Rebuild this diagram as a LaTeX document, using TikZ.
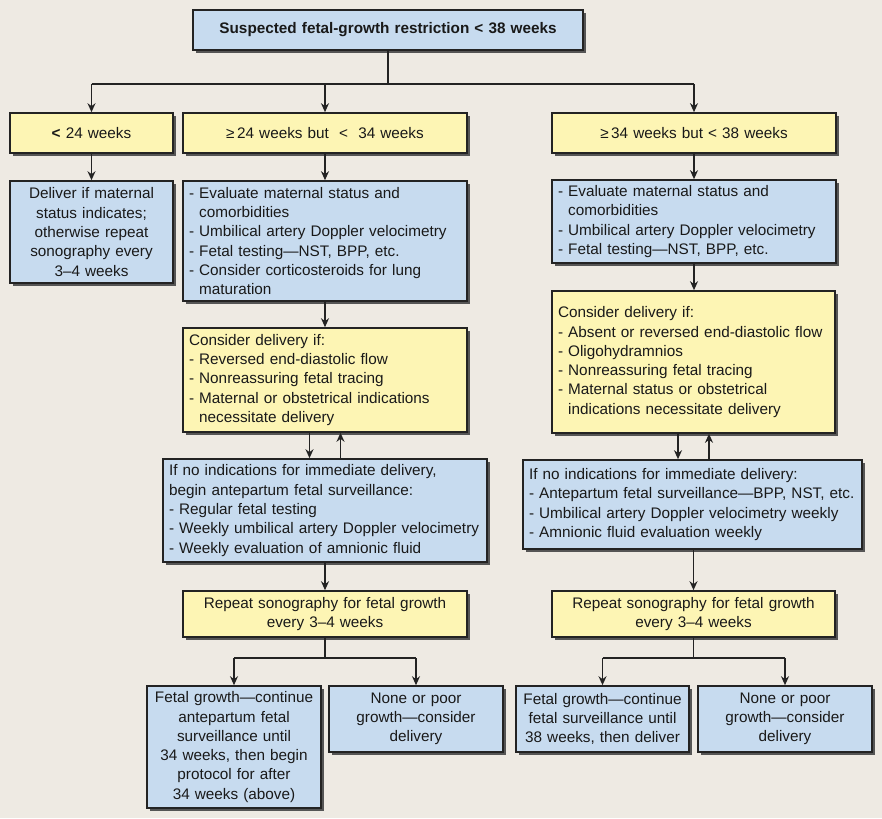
\documentclass[tikz,border=0pt]{standalone}
\usepackage{fontspec}
\setmainfont{Liberation Sans}
\usetikzlibrary{arrows.meta,shadows}
\definecolor{bgc}{RGB}{238,234,227}
\definecolor{bluec}{RGB}{199,219,239}
\definecolor{yelc}{RGB}{253,245,180}
\definecolor{linec}{RGB}{35,35,35}
\definecolor{shadc}{RGB}{85,85,85}
\definecolor{textc}{RGB}{25,25,25}
\newcommand\ind{\hphantom{-~}}
\tikzset{
  box/.style={draw=linec, line width=1.6pt, inner xsep=6pt, inner ysep=0pt,
    text=textc, font=\fontsize{15.3}{19.3}\selectfont,
    drop shadow={shadow xshift=3pt, shadow yshift=-3pt, fill=shadc, opacity=1}},
  bluebox/.style={box, fill=bluec},
  yelbox/.style={box, fill=yelc},
  lft/.style={align=left},
  ctr/.style={align=center},
  conn/.style={draw=linec, line width=1.8pt},
  arr/.style={conn, -{Stealth[length=9pt,width=8pt]}}
}
\newcommand\mkbox[7]{%
  \pgfmathsetmacro\bxW{#5-#3-12}%
  \pgfmathsetmacro\bxH{#6-#4}%
  \pgfmathsetmacro\bxX{(#3+#5)/2}%
  \pgfmathsetmacro\bxY{(#4+#6)/2}%
  \node[#2, text width=\bxW pt, minimum height=\bxH pt] (#1) at (\bxX,\bxY) {#7};}
\begin{document}
\begin{tikzpicture}[x=1pt,y=-1pt]
\fill[bgc] (0,0) rectangle (882,818);
\useasboundingbox (0,0) rectangle (882,818);

\mkbox{title}{bluebox,ctr}{193}{10}{583}{50}{\textbf{Suspected fetal-growth restriction < 38 weeks}}
\mkbox{b24}{yelbox,ctr}{10}{113}{173}{153}{\textbf{<} 24 weeks}
\mkbox{b2434}{yelbox,ctr}{183}{113}{467}{153}{≥\,24 weeks but\ \ <\ \ 34 weeks}
\mkbox{b3438}{yelbox,ctr}{552}{113}{836}{153}{≥\,34 weeks but < 38 weeks}

\mkbox{deliver}{bluebox,ctr}{10}{181}{173}{283}{Deliver if maternal\\status indicates;\\otherwise repeat\\sonography every\\3–4 weeks}
\mkbox{llist}{bluebox,lft}{183}{181}{467}{301}{- Evaluate maternal status and\\\ind comorbidities\\\mbox{- Umbilical artery Doppler velocimetry}\\- Fetal testing—NST, BPP, etc.\\- Consider corticosteroids for lung\\\ind maturation}
\mkbox{rlist}{bluebox,lft}{552}{180}{836}{263}{- Evaluate maternal status and\\\ind comorbidities\\\mbox{- Umbilical artery Doppler velocimetry}\\- Fetal testing—NST, BPP, etc.}

\mkbox{lcons}{yelbox,lft}{183}{328}{467}{432}{Consider delivery if:\\- Reversed end-diastolic flow\\- Nonreassuring fetal tracing\\\mbox{- Maternal or obstetrical indications}\\\ind necessitate delivery}
\mkbox{rcons}{yelbox,lft}{552}{291}{835}{433}{Consider delivery if:\\\mbox{- Absent or reversed end-diastolic flow}\\- Oligohydramnios\\- Nonreassuring fetal tracing\\- Maternal status or obstetrical\\\ind indications necessitate delivery}

\mkbox{lsurv}{bluebox,lft}{163}{459}{487}{562}{\mbox{If no indications for immediate delivery,}\\begin antepartum fetal surveillance:\\- Regular fetal testing\\\mbox{- Weekly umbilical artery Doppler velocimetry}\\- Weekly evaluation of amnionic fluid}
\mkbox{rsurv}{bluebox,lft}{523}{460}{862}{549}{\mbox{If no indications for immediate delivery:}\\\mbox{- Antepartum fetal surveillance—BPP, NST, etc.}\\\mbox{- Umbilical artery Doppler velocimetry weekly}\\- Amnionic fluid evaluation weekly}

\mkbox{lrep}{yelbox,ctr}{183}{591}{467}{637}{Repeat sonography for fetal growth\\every 3–4 weeks}
\mkbox{rrep}{yelbox,ctr}{552}{591}{835}{637}{Repeat sonography for fetal growth\\every 3–4 weeks}

\mkbox{lfg}{bluebox,ctr}{147}{686}{321}{808}{Fetal growth—continue\\antepartum fetal\\surveillance until\\34 weeks, then begin\\protocol for after\\34 weeks (above)}
\mkbox{lnone}{bluebox,ctr}{329}{686}{503}{752}{None or poor\\growth—consider\\delivery}
\mkbox{rfg}{bluebox,ctr}{516}{686}{689}{752}{Fetal growth—continue\\fetal surveillance until\\38 weeks, then deliver}
\mkbox{rnone}{bluebox,ctr}{698}{686}{872}{752}{None or poor\\growth—consider\\delivery}

% connectors
\coordinate (hl) at (0,84);
\draw[conn] (title.south) -- (title.south |- hl);
\draw[conn] (b24.north |- hl) -- (b3438.north |- hl);
\draw[arr] (b24.north |- hl) -- (b24.north);
\draw[arr] (b2434.north |- hl) -- (b2434.north);
\draw[arr] (b3438.north |- hl) -- (b3438.north);

\draw[arr] (b24.south) -- (deliver.north);
\draw[arr] (b2434.south) -- (llist.north);
\draw[arr] (b3438.south) -- (rlist.north);
\draw[arr] (llist.south) -- (lcons.north);
\draw[arr] (rlist.south) -- (rcons.north -| rlist.south);

\draw[arr] ([xshift=-15.5pt]lcons.south) -- ([xshift=-15.5pt]lcons.south |- lsurv.north);
\draw[arr] ([xshift=15.5pt]lcons.south |- lsurv.north) -- ([xshift=15.5pt]lcons.south);
\draw[arr] ([xshift=-15.5pt]rcons.south) -- ([xshift=-15.5pt]rcons.south |- rsurv.north);
\draw[arr] ([xshift=15.5pt]rcons.south |- rsurv.north) -- ([xshift=15.5pt]rcons.south);

\draw[arr] (lsurv.south) -- (lrep.north);
\draw[arr] (rsurv.south -| rrep.north) -- (rrep.north);

\coordinate (lb) at (0,658);
\draw[conn] (lrep.south) -- (lrep.south |- lb);
\draw[conn] (lfg.north |- lb) -- (lnone.north |- lb);
\draw[arr] (lfg.north |- lb) -- (lfg.north);
\draw[arr] (lnone.north |- lb) -- (lnone.north);
\draw[conn] (rrep.south) -- (rrep.south |- lb);
\draw[conn] (rfg.north |- lb) -- (rnone.north |- lb);
\draw[arr] (rfg.north |- lb) -- (rfg.north);
\draw[arr] (rnone.north |- lb) -- (rnone.north);
\end{tikzpicture}
\end{document}
